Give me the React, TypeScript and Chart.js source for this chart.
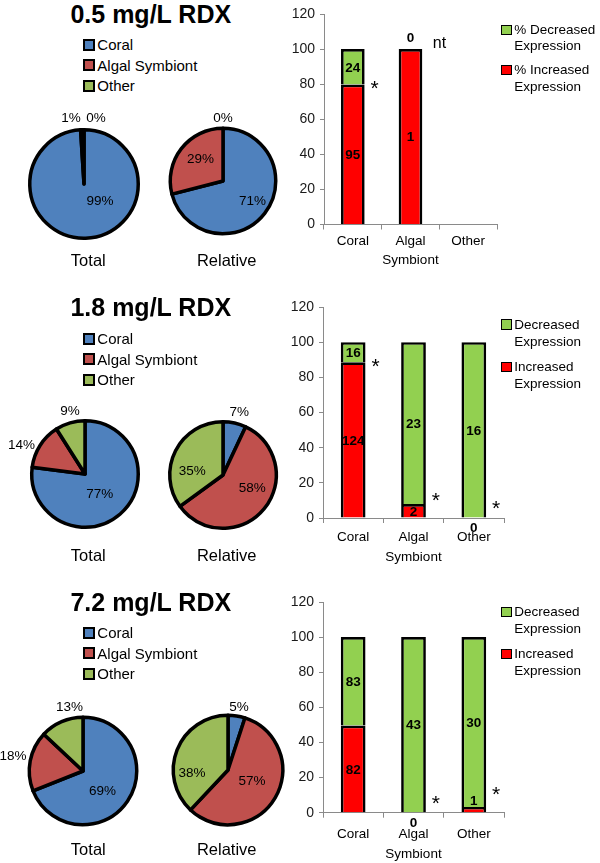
import React, { useEffect, useRef } from 'react';
import { Chart, registerables } from 'chart.js';

Chart.register(...registerables);

const FONT = '"Liberation Sans", Arial, Helvetica, sans-serif';

// ---------------- data ----------------
const TITLES = ['0.5 mg/L RDX', '1.8 mg/L RDX', '7.2 mg/L RDX'];
const PIE_CATEGORIES = ['Coral', 'Algal Symbiont', 'Other'];
const PIE_NAMES = ['Total', 'Relative'];

const TOTAL_05 = [99, 1, 0];
const RELATIVE_05 = [71, 29, 0];
const TOTAL_18 = [77, 14, 9];
const RELATIVE_18 = [7, 58, 35];
const TOTAL_72 = [69, 18, 13];
const RELATIVE_72 = [5, 57, 38];

const BAR_CATEGORIES = [['Coral'], ['Algal', 'Symbiont'], ['Other']];
const Y_MIN = 0;
const Y_MAX = 120;
const Y_STEP = 20;

const INCREASED_05 = [95, 1, null];
const DECREASED_05 = [24, 0, null];
const INCREASED_18 = [124, 2, 0];
const DECREASED_18 = [16, 23, 16];
const INCREASED_72 = [82, 0, 1];
const DECREASED_72 = [83, 43, 30];

const SIG_05 = ['*', 'nt', ''];
const SIG_18 = ['*', '*', '*'];
const SIG_72 = ['', '*', '*'];

const BAR_LEGEND_05 = [['% Decreased', 'Expression'], ['% Increased', 'Expression']];
const BAR_LEGEND = [['Decreased', 'Expression'], ['Increased', 'Expression']];

// ---------------- styles / layout ----------------
const PIE_COLORS = ['#4F81BD', '#C0504D', '#9BBB59'];
const INC_COLOR = '#FF0000';
const DEC_COLOR = '#92D050';
const AXIS_COLOR = '#8a8a8a';
const PIE_BORDER = 3.5;
const BAR_BORDER = 2.7;

const PANEL_LAYOUT = [
  {
    titleY: 14, legendY: [44.7, 65.2, 85.7],
    pies: [{ cx: 84, cy: 184, r: 56 }, { cx: 222.5, cy: 180.5, r: 54.5 }], pieNameY: 260,
    bar: { top: 0, height: 280, areaTop: 14, areaBottom: 224.5, left: 324, right: 497, tickPad: 1.7 },
    barLegendY: [29.5, 46, 69.5, 86.3], markY: [80.8, 103.5, 0],
  },
  {
    titleY: 307.2, legendY: [338.7, 359.2, 379.7],
    pies: [{ cx: 85.3, cy: 474.2, r: 55 }, { cx: 222.5, cy: 474.7, r: 55 }], pieNameY: 555,
    bar: { top: 280, height: 290, areaTop: 307, areaBottom: 518, left: 323, right: 504, tickPad: 4.7 },
    barLegendY: [324.3, 341.6, 366.7, 383.5], markY: [89.3, 13.1, 8.4],
  },
  {
    titleY: 602, legendY: [632.8, 653.3, 673.7],
    pies: [{ cx: 83.3, cy: 770.7, r: 55.5 }, { cx: 227.8, cy: 769.7, r: 56.5 }], pieNameY: 848.8,
    bar: { top: 570, height: 293, areaTop: 602, areaBottom: 812.7, left: 323, right: 504, tickPad: 7 },
    barLegendY: [611.7, 629, 653.7, 671], markY: [0, 8.2, 13.3],
  },
];

// label anchor offsets from pie centre (px), per slice
const PIE_LABEL_OFFSETS = [
  [[[16, 16], [-13, -67], [12, -67]], [[29.5, 19.5], [-22.5, -22.5], [0, -63.5]]],
  [[[14.7, 19], [-63.6, -30], [-15, -63.4]], [[16.3, -64], [29.2, 12], [-30.8, -5]]],
  [[[19.4, 19.3], [-70, -15.7], [-13.6, -64.9]], [[11, -63.9], [23.9, 10.3], [-36.1, 2]]],
];

const PIE_VALUES = [[TOTAL_05, RELATIVE_05], [TOTAL_18, RELATIVE_18], [TOTAL_72, RELATIVE_72]];
const INCREASED = [INCREASED_05, INCREASED_18, INCREASED_72];
const DECREASED = [DECREASED_05, DECREASED_18, DECREASED_72];
const SIGS = [SIG_05, SIG_18, SIG_72];
const BAR_LEGENDS = [BAR_LEGEND_05, BAR_LEGEND, BAR_LEGEND];

// ---------------- plugins ----------------
const pieLabelPlugin = {
  id: 'pieLabels',
  afterDatasetsDraw(chart: any, _a: any, opts: any) {
    const arc = chart.getDatasetMeta(0).data[0];
    const ctx = chart.ctx;
    const fs = 13.5;
    ctx.save();
    ctx.font = `${fs}px ${FONT}`;
    ctx.fillStyle = '#000';
    ctx.textAlign = 'center';
    ctx.textBaseline = 'alphabetic';
    opts.values.forEach((v: number, i: number) => {
      const [dx, dy] = opts.offsets[i];
      ctx.fillText(`${v}%`, arc.x + dx, arc.y + dy + 0.358 * fs);
    });
    ctx.restore();
  },
};

const barLabelPlugin = {
  id: 'barLabels',
  afterDatasetsDraw(chart: any, _a: any, opts: any) {
    const ctx = chart.ctx;
    const fs = 13.5;
    const ys = chart.scales.y;
    const base = ys.getPixelForValue(0);
    ctx.save();
    ctx.font = `bold ${fs}px ${FONT}`;
    ctx.fillStyle = '#000';
    ctx.textAlign = 'center';
    ctx.textBaseline = 'alphabetic';
    chart.data.datasets.forEach((_ds: any, di: number) => {
      const meta = chart.getDatasetMeta(di);
      meta.data.forEach((bar: any, i: number) => {
        const c = opts.counts[di][i];
        if (c === null || c === undefined) return;
        const top = Math.min(bar.y, bar.base);
        const bottom = Math.max(bar.y, bar.base);
        let cy: number;
        if (c === 0) {
          cy = di === 1 ? top - 12 : base + 9.5;
        } else if (bottom - top < 10) {
          cy = top - 7;
        } else {
          cy = (top + bottom) / 2;
        }
        ctx.fillText(String(c), bar.x, cy + 0.358 * fs);
      });
    });
    ctx.restore();
  },
};

const sigMarkPlugin = {
  id: 'sigMarks',
  afterDatasetsDraw(chart: any, _a: any, opts: any) {
    const ctx = chart.ctx;
    const xs = chart.scales.x;
    const ys = chart.scales.y;
    const meta = chart.getDatasetMeta(0);
    const w = (meta.data.find((b: any) => b && isFinite(b.width) && b.width > 0) || { width: 24 }).width;
    const half = w / 2;
    ctx.save();
    ctx.fillStyle = '#000';
    ctx.textBaseline = 'alphabetic';
    opts.marks.forEach((m: string, i: number) => {
      if (!m) return;
      const x = xs.getPixelForValue(i) + half;
      const y = ys.getPixelForValue(opts.markY[i]);
      if (m === '*') {
        ctx.font = `21px ${FONT}`;
        ctx.textAlign = 'center';
        ctx.fillText('*', x + 10, y + 0.578 * 21);
      } else {
        ctx.font = `16px ${FONT}`;
        ctx.textAlign = 'left';
        ctx.fillText(m, x + 10.5, y + 5.3);
      }
    });
    ctx.restore();
  },
};

// ---------------- components ----------------
function Text({ x, y, text, size, bold = false, align = 'center' }: any) {
  return (
    <div
      style={{
        position: 'absolute',
        left: x,
        top: y - 0.4885 * size,
        fontSize: size,
        lineHeight: `${size}px`,
        fontFamily: FONT,
        fontWeight: bold ? 'bold' : 'normal',
        whiteSpace: 'nowrap',
        color: '#000',
        transform: align === 'center' ? 'translateX(-50%)' : undefined,
      }}
    >
      {text}
    </div>
  );
}

function PieChart({ values, cx, cy, r, offsets }: any) {
  const ref = useRef<HTMLCanvasElement>(null);
  const W = 180;
  const H = 170;
  useEffect(() => {
    const chart = new Chart(ref.current as HTMLCanvasElement, {
      type: 'pie',
      data: {
        labels: PIE_CATEGORIES,
        datasets: [
          {
            data: values,
            backgroundColor: PIE_COLORS,
            borderColor: '#000',
            borderWidth: PIE_BORDER,
            borderJoinStyle: 'round',
            radius: r - PIE_BORDER / 2,
          } as any,
        ],
      },
      options: {
        responsive: false,
        animation: false,
        events: [],
        layout: { padding: 0 },
        plugins: {
          legend: { display: false },
          tooltip: { enabled: false },
          pieLabels: { values, offsets },
        } as any,
      },
      plugins: [pieLabelPlugin],
    });
    return () => chart.destroy();
  }, []);
  return (
    <canvas
      ref={ref}
      width={W}
      height={H}
      style={{ position: 'absolute', left: Math.round(cx - W / 2), top: Math.round(cy - H / 2), width: W, height: H }}
    />
  );
}

function BarChart({ inc, dec, sig, markY, L }: any) {
  const ref = useRef<HTMLCanvasElement>(null);
  const CL = 290;
  const W = 310;
  useEffect(() => {
    const incPct = inc.map((v: number | null, i: number) => (v == null ? null : (v / (v + dec[i])) * 100));
    const decPct = dec.map((v: number | null, i: number) => (v == null ? null : (v / ((inc[i] as number) + v)) * 100));
    const common = {
      borderColor: '#000',
      borderWidth: BAR_BORDER,
      borderSkipped: 'bottom',
      barPercentage: 0.41,
      categoryPercentage: 1,
    };
    const chart = new Chart(ref.current as HTMLCanvasElement, {
      type: 'bar',
      data: {
        labels: BAR_CATEGORIES as any,
        datasets: [
          { label: 'Increased', data: incPct, backgroundColor: INC_COLOR, ...common } as any,
          { label: 'Decreased', data: decPct, backgroundColor: DEC_COLOR, ...common } as any,
        ],
      },
      options: {
        responsive: false,
        animation: false,
        events: [],
        layout: { padding: { top: L.areaTop - L.top, right: CL + W - L.right, left: 0, bottom: 0 } },
        scales: {
          x: {
            stacked: true,
            offset: true,
            z: 1,
            grid: { display: true, drawOnChartArea: false, drawTicks: true, tickLength: 5, color: AXIS_COLOR, offset: true },
            border: { display: true, color: AXIS_COLOR, width: 1 },
            ticks: {
              font: { family: FONT, size: 13.5, lineHeight: 1.45 },
              color: '#000',
              padding: L.tickPad,
              maxRotation: 0,
              autoSkip: false,
            },
            afterFit: (s: any) => {
              s.height = L.top + L.height - L.areaBottom;
            },
          },
          y: {
            stacked: true,
            min: Y_MIN,
            max: Y_MAX,
            ticks: { stepSize: Y_STEP, font: { family: FONT, size: 14 }, color: '#1a1a1a', padding: 5 },
            grid: { display: true, drawOnChartArea: false, tickLength: 4, color: AXIS_COLOR },
            border: { display: true, color: AXIS_COLOR, width: 1 },
            afterFit: (s: any) => {
              s.width = L.left - CL;
            },
          },
        } as any,
        plugins: {
          legend: { display: false },
          tooltip: { enabled: false },
          barLabels: { counts: [inc, dec] },
          sigMarks: { marks: sig, markY },
        } as any,
      },
      plugins: [barLabelPlugin, sigMarkPlugin],
    });
    return () => chart.destroy();
  }, []);
  return (
    <canvas
      ref={ref}
      width={W}
      height={L.height}
      style={{ position: 'absolute', left: CL, top: L.top, width: W, height: L.height }}
    />
  );
}

function Panel({ p }: { p: number }) {
  const L = PANEL_LAYOUT[p];
  const legendBar = BAR_LEGENDS[p];
  return (
    <>
      <Text x={150.8} y={L.titleY} text={TITLES[p]} size={25} bold />
      {PIE_CATEGORIES.map((c, i) => (
        <React.Fragment key={c}>
          <div
            style={{
              position: 'absolute',
              left: 83,
              top: L.legendY[i] - 6,
              width: 12,
              height: 12,
              boxSizing: 'border-box',
              border: '2px solid #000',
              background: PIE_COLORS[i],
            }}
          />
          <Text x={97.3} y={L.legendY[i]} text={c} size={15} align="left" />
        </React.Fragment>
      ))}
      {L.pies.map((pie, k) => (
        <PieChart
          key={k}
          values={PIE_VALUES[p][k]}
          cx={pie.cx}
          cy={pie.cy}
          r={pie.r}
          offsets={PIE_LABEL_OFFSETS[p][k]}
        />
      ))}
      <Text x={88.3} y={L.pieNameY} text={PIE_NAMES[0]} size={16.5} />
      <Text x={226.7} y={L.pieNameY} text={PIE_NAMES[1]} size={16.5} />
      <BarChart inc={INCREASED[p]} dec={DECREASED[p]} sig={SIGS[p]} markY={L.markY} L={L.bar} />
      {legendBar.map((lines, i) => (
        <React.Fragment key={i}>
          <div
            style={{
              position: 'absolute',
              left: 501,
              top: L.barLegendY[i * 2] - 5,
              width: 10.5,
              height: 10.5,
              boxSizing: 'border-box',
              border: '1.5px solid #000',
              background: i === 0 ? DEC_COLOR : INC_COLOR,
            }}
          />
          <Text x={514.3} y={L.barLegendY[i * 2]} text={lines[0]} size={13.5} align="left" />
          <Text x={514.3} y={L.barLegendY[i * 2 + 1]} text={lines[1]} size={13.5} align="left" />
        </React.Fragment>
      ))}
    </>
  );
}

export default function App() {
  return (
    <div
      style={{
        position: 'absolute',
        left: 0,
        top: 0,
        width: 600,
        height: 863,
        background: '#fff',
        overflow: 'hidden',
        fontFamily: FONT,
      }}
    >
      <Panel p={0} />
      <Panel p={1} />
      <Panel p={2} />
    </div>
  );
}
